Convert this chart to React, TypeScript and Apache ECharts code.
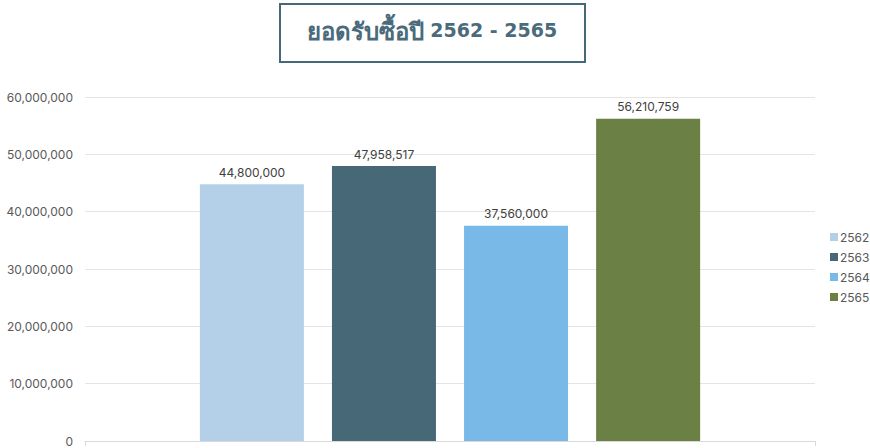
import React, { useEffect, useRef } from "react";
import * as echarts from "echarts";

const titleThai = "ยอดรับซื้อปี";
const titleYears = "2562 - 2565";
const categories = [""];
const seriesNames = ["2562", "2563", "2564", "2565"];
const seriesValues = [44800000, 47958517, 37560000, 56210759];
const seriesColors = ["#b4cfe8", "#476877", "#79b9e7", "#6a8044"];

const fmt = (v: number) => v.toLocaleString("en-US");

export default function App() {
  const ref = useRef<HTMLDivElement>(null);
  useEffect(() => {
    const chart = echarts.init(ref.current!, null, { renderer: "svg" });
    chart.setOption({
      animation: false,
      textStyle: { fontFamily: "Inter, 'Noto Sans', sans-serif" },
      graphic: [
        {
          type: "rect",
          shape: { x: 280, y: 4, width: 305, height: 58 },
          style: { fill: "#fff", stroke: "#46697a", lineWidth: 2 },
        },
        {
          type: "text",
          x: 432,
          y: 30,
          style: {
            text: "{a|" + titleThai + "}{b|\u00a0" + titleYears + "}",
            fill: "#4a6b7b",
            textAlign: "center",
            textVerticalAlign: "middle",
            rich: {
              a: {
                fill: "#4a6b7b",
                fontFamily: "'Noto Sans', sans-serif",
                fontWeight: "bold",
                fontSize: 24,
              },
              b: {
                fill: "#4a6b7b",
                fontFamily: "'DejaVu Sans', sans-serif",
                fontWeight: "bold",
                fontSize: 19,
              },
            },
          },
        },
      ],
      legend: {
        orient: "vertical",
        left: 825,
        top: 226,
        itemWidth: 8,
        itemHeight: 8,
        itemGap: 8,
        icon: "rect",
        textStyle: { color: "#595959", fontSize: 12, padding: [0, 0, 0, -3] },
        data: seriesNames,
      },
      grid: { left: 85, right: 55, top: 97, bottom: 7, containLabel: false },
      xAxis: {
        type: "category",
        data: categories,
        axisLine: { lineStyle: { color: "#d9d9d9" } },
        axisTick: { show: true, lineStyle: { color: "#d9d9d9" } },
        axisLabel: { show: false },
      },
      yAxis: {
        type: "value",
        min: 0,
        max: 60000000,
        interval: 10000000,
        axisLine: { show: false },
        axisTick: { show: false },
        splitLine: { lineStyle: { color: "#e4e4e4" } },
        axisLabel: {
          color: "#595959",
          fontSize: 12,
          margin: 12,
          formatter: (v: number) => fmt(v),
        },
      },
      series: seriesNames.map((name, i) => ({
        name,
        type: "bar",
        barWidth: 104,
        barGap: "27%",
        itemStyle: { color: seriesColors[i] },
        label: {
          show: true,
          position: "top",
          distance: 6,
          color: "#404040",
          fontSize: 12,
          formatter: (p: any) => fmt(p.value),
        },
        data: [seriesValues[i]],
      })),
    });
    return () => chart.dispose();
  }, []);
  return (
    <div
      ref={ref}
      style={{ position: "fixed", left: 0, top: 0, width: 870, height: 448, background: "#fff" }}
    />
  );
}
